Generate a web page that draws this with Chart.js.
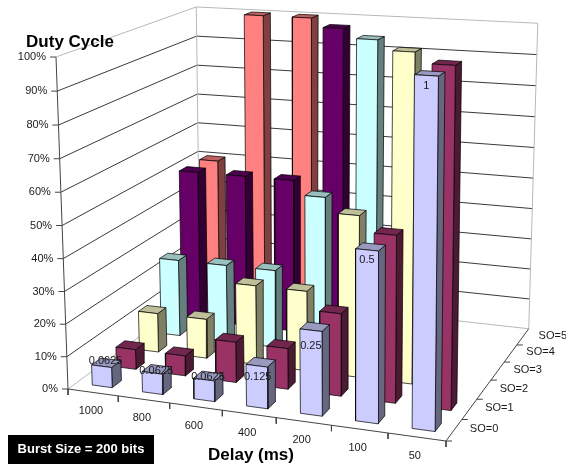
<!DOCTYPE html>
<html>
<head>
<meta charset="utf-8">
<style>
  html, body { margin: 0; padding: 0; background: #fff; }
  canvas { display: block; }
</style>
<script src="https://cdn.jsdelivr.net/npm/chart.js@4"></script>
</head>
<body>
<canvas id="duty" width="566" height="466"></canvas>
<script>
const delays = ['1000', '800', '600', '400', '200', '100', '50'];
const soNames = ['SO=0', 'SO=1', 'SO=2', 'SO=3', 'SO=4', 'SO=5'];
const percentTicks = ['0%', '10%', '20%', '30%', '40%', '50%', '60%', '70%', '80%', '90%', '100%'];

// duty cycle per delay, a row stops once it has reached 1
const so0 = [0.0625, 0.0625, 0.0625, 0.125, 0.25, 0.5, 1];
const so1 = [0.0625, 0.0625, 0.125, 0.125, 0.25, 0.5, 1];
const so2 = [0.125, 0.125, 0.25, 0.25, 0.5, 1, null];
const so3 = [0.25, 0.25, 0.25, 0.5, 1, null, null];
const so4 = [0.5, 0.5, 0.5, 1, null, null, null];
const so5 = [0.5, 1, 1, null, null, null, null];
const rows = [so0, so1, so2, so3, so4, so5];

// front, top, side
const rowColors = [
  ['#CCCCFF', '#9999BF', '#666680'],
  ['#993366', '#73264D', '#4D1A33'],
  ['#FFFFCC', '#BFBF99', '#808066'],
  ['#CCFFFF', '#99BFBF', '#668080'],
  ['#660066', '#4D004D', '#330033'],
  ['#FF8080', '#BF6060', '#804040']
];

// perspective of the 3d box: u along delay, w along SO, h up (all 0..1)
const A = [68, 389], B = [446, 441], D = [200, 292], T = [56, 57];
const pu = -0.08, pw = 0.17, ph = -0.03;

function project(u, w, h) {
  const den = 1 + pu * u + pw * w + ph * h;
  const f = k => (A[k]
    + (B[k] * (1 + pu) - A[k]) * u
    + (D[k] * (1 + pw) - A[k]) * w
    + (T[k] * (1 + ph) - A[k]) * h) / den;
  // uprights lean outwards a little more than the plain perspective gives
  return { x: f(0) + h * (4 * u + 3 * w), y: f(1) };
}

function poly(points, fillColor, lineColor, width) {
  const ds = {
    data: points,
    showLine: true,
    pointRadius: 0,
    tension: 0,
    borderColor: lineColor,
    borderWidth: width,
    borderJoinStyle: 'round',
    fill: false
  };
  if (fillColor) {
    ds.data = points.concat([points[0]]);
    ds.fill = 'shape';
    ds.backgroundColor = fillColor;
  }
  return ds;
}

// back to front, order is set at the end
const shapes = [];
const WALL = '#b8b8b8', GRID = '#3a3a3a', AXIS = '#444', EDGE = 'rgba(0,0,0,0.7)';

// gridlines on both walls
for (let t = 1; t <= 10; t++) {
  const h = t / 10;
  shapes.push(poly([project(0, 0, h), project(0, 1, h), project(1, 1, h)], null, t === 10 ? WALL : GRID, 1));
}
shapes.push(poly([project(0, 0, 0), project(0, 1, 0), project(1, 1, 0)], null, WALL, 1));
shapes.push(poly([project(0, 1, 0), project(0, 1, 1)], null, WALL, 1));
shapes.push(poly([project(1, 1, 0), project(1, 1, 1)], null, WALL, 1));

// axes and ticks
shapes.push(poly([project(0, 0, 1), project(0, 0, 0), project(1, 0, 0), project(1, 1, 0)], null, AXIS, 1));
percentTicks.forEach((_, t) => {
  const p = project(0, 0, t / 10);
  shapes.push(poly([{ x: p.x - 6, y: p.y }, p], null, AXIS, 1));
});
delays.concat(['']).forEach((_, i) => {
  const p = project(i / delays.length, 0, 0);
  shapes.push(poly([p, { x: p.x, y: p.y + 6 }], null, AXIS, 1));
});
soNames.forEach((_, j) => {
  const p = project(1, j / soNames.length, 0);
  shapes.push(poly([p, { x: p.x + 6, y: p.y }], null, AXIS, 1));
});

// bars, far rows first, left to right inside a row
const insetU = 0.32, sizeU = 0.40, insetW = 0.33, sizeW = 0.38;
for (let j = rows.length - 1; j >= 0; j--) {
  rows[j].forEach((v, i) => {
    if (v === null) return;
    const u0 = (i + insetU) / delays.length, u1 = (i + insetU + sizeU) / delays.length;
    const w0 = (j + insetW) / rows.length, w1 = (j + insetW + sizeW) / rows.length;
    const c = rowColors[j];
    shapes.push(poly([project(u1, w0, 0), project(u1, w1, 0), project(u1, w1, v), project(u1, w0, v)], c[2], EDGE, 1));
    shapes.push(poly([project(u0, w0, v), project(u1, w0, v), project(u1, w1, v), project(u0, w1, v)], c[1], EDGE, 1));
    shapes.push(poly([project(u0, w0, 0), project(u1, w0, 0), project(u1, w0, v), project(u0, w0, v)], c[0], EDGE, 1));
  });
}

shapes.forEach((s, n) => { s.order = shapes.length - n; });

// how far each value label sits from the top front edge of its bar
const labelDx = [4, 4, 4, 1, 0, 0, 0];
const labelDy = [-5, -2, -3, 11, 16, 10, 11];

const textPlugin = {
  id: 'chartText',
  afterDatasetsDraw(chart) {
    const c = chart.ctx, sx = chart.scales.x, sy = chart.scales.y;
    const put = (str, p, dx, dy, font, align, color) => {
      c.font = font;
      c.textAlign = align || 'center';
      c.textBaseline = 'middle';
      c.fillStyle = color || '#1a1a1a';
      c.fillText(str, sx.getPixelForValue(p.x) + dx, sy.getPixelForValue(p.y) + dy);
    };
    const small = '11px "Liberation Sans"';
    const big = 'bold 17px "Liberation Sans"';

    percentTicks.forEach((lbl, t) => put(lbl, project(0, 0, t / 10), -10, 0, small, 'right'));
    delays.forEach((lbl, i) => put(lbl, project((i + 0.5) / delays.length, 0, 0), -2, 19, small));
    soNames.forEach((lbl, j) => put(lbl, project(1, (j + 0.5) / soNames.length, 0), 30, -1, small));

    // value labels of the front row
    so0.forEach((v, i) => {
      const u = (i + insetU + sizeU / 2) / delays.length, w = insetW / rows.length;
      put(String(v), project(u, w, v), labelDx[i], labelDy[i], small);
    });

    put('Duty Cycle', { x: 70, y: 42 }, 0, 0, big, 'center', '#000');
    put('Delay (ms)', { x: 251, y: 455 }, 0, 0, big, 'center', '#000');

    c.fillStyle = '#000';
    c.fillRect(8, 435, 146, 29);
    put('Burst Size = 200 bits', { x: 81, y: 449 }, 0, 0, 'bold 13px "Liberation Sans"', 'center', '#fff');
  }
};

const duty = new Chart(document.getElementById('duty').getContext('2d'), {
  type: 'scatter',
  data: { datasets: shapes },
  options: {
    responsive: false,
    animation: false,
    layout: { padding: 0 },
    plugins: { legend: { display: false }, tooltip: { enabled: false } },
    scales: {
      x: { type: 'linear', display: false, min: 0, max: 566 },
      y: { type: 'linear', display: false, min: 0, max: 466, reverse: true }
    }
  },
  plugins: [textPlugin]
});
</script>
</body>
</html>
